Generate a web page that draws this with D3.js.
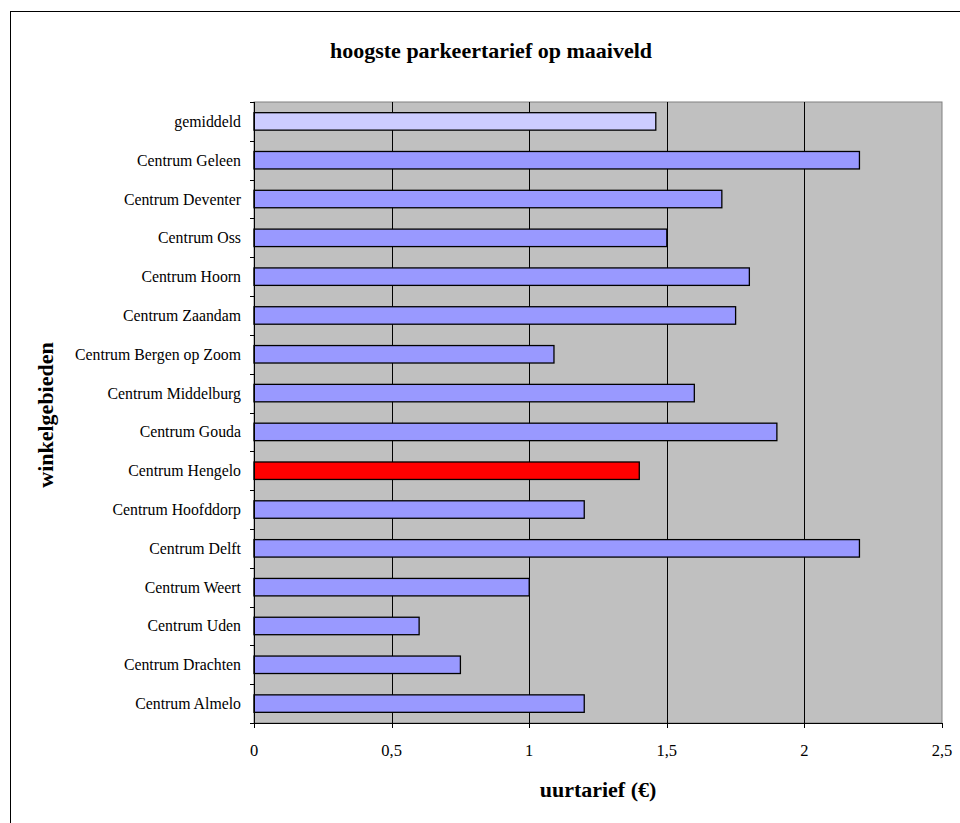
<!DOCTYPE html>
<html><head><meta charset="utf-8">
<script src="https://cdn.jsdelivr.net/npm/d3@7"></script>
<style>body{margin:0;background:#fff}svg{display:block}</style>
</head><body>
<script>
const categories = ["gemiddeld","Centrum Geleen","Centrum Deventer","Centrum Oss","Centrum Hoorn","Centrum Zaandam","Centrum Bergen op Zoom","Centrum Middelburg","Centrum Gouda","Centrum Hengelo","Centrum Hoofddorp","Centrum Delft","Centrum Weert","Centrum Uden","Centrum Drachten","Centrum Almelo"];
const values = [1.46,2.2,1.7,1.5,1.8,1.75,1.09,1.6,1.9,1.4,1.2,2.2,1.0,0.6,0.75,1.2];
const xTicks = [0,0.5,1,1.5,2,2.5];
const xTickLabels = ["0","0,5","1","1,5","2","2,5"];
const title = "hoogste parkeertarief op maaiveld";
const xTitle = "uurtarief (€)";
const yTitle = "winkelgebieden";

const W=960,H=823;
const font = "'Liberation Serif','DejaVu Serif',serif";
const svg = d3.select("body").append("svg").attr("width",W).attr("height",H);
svg.append("rect").attr("x",10.5).attr("y",11.5).attr("width",W).attr("height",H).attr("fill","#fff").attr("stroke","#000");

const L=254,R=942,T=102,B=723;
const x = d3.scaleLinear().domain([0,2.5]).range([L,R]);
const y = d3.scaleBand().domain(categories).range([T,B]).paddingInner(0.55).paddingOuter(0.275);
const yb = d3.scaleBand().domain(categories).range([T,B]);

svg.append("rect").attr("x",L).attr("y",T).attr("width",R-L).attr("height",B-T).attr("fill","#C0C0C0").attr("stroke","#808080");

svg.append("g").selectAll("line").data(xTicks.slice(1,-1)).join("line")
  .attr("x1",d=>Math.round(x(d))+0.5).attr("x2",d=>Math.round(x(d))+0.5).attr("y1",T).attr("y2",B)
  .attr("stroke","#000").attr("stroke-width",1);

svg.append("g").selectAll("rect").data(categories).join("rect")
  .attr("x",x(0)).attr("y",d=>y(d)).attr("width",(d,i)=>x(values[i])-x(0)).attr("height",y.bandwidth())
  .attr("fill",(d,i)=>d==="gemiddeld"?"#CCCCFF":(d==="Centrum Hengelo"?"#FF0000":"#9999FF"))
  .attr("stroke","#000").attr("stroke-width",1.3);

// y axis
const yAxisG = svg.append("g");
yAxisG.append("line").attr("x1",L+0.5).attr("x2",L+0.5).attr("y1",T).attr("y2",B).attr("stroke","#000");
const bounds = categories.map(c=>yb(c)).concat([B]);
yAxisG.selectAll("line.t").data(bounds).join("line").attr("class","t")
  .attr("x1",L-4).attr("x2",L).attr("y1",d=>Math.round(d)+0.5).attr("y2",d=>Math.round(d)+0.5).attr("stroke","#000");
yAxisG.selectAll("text").data(categories).join("text")
  .attr("x",241).attr("y",d=>yb(d)+yb.bandwidth()/2).attr("dy","0.35em")
  .attr("text-anchor","end").attr("font-family",font).attr("font-size",15.8).attr("fill","#000").text(d=>d);

// x axis
const xAxisG = svg.append("g").attr("transform",`translate(0,${B})`);
xAxisG.append("line").attr("x1",L).attr("x2",R).attr("y1",0.5).attr("y2",0.5).attr("stroke","#000");
xAxisG.selectAll("line.t").data(xTicks).join("line").attr("class","t")
  .attr("x1",d=>Math.round(x(d))+0.5).attr("x2",d=>Math.round(x(d))+0.5).attr("y1",0).attr("y2",5).attr("stroke","#000");
xAxisG.selectAll("text").data(xTicks).join("text")
  .attr("x",d=>x(d)).attr("y",33).attr("text-anchor","middle")
  .attr("font-family",font).attr("font-size",16.5).attr("fill","#000").text((d,i)=>xTickLabels[i]);

svg.append("text").attr("x",491).attr("y",58).attr("text-anchor","middle")
  .attr("font-family",font).attr("font-size",22).attr("font-weight","bold").text(title);
svg.append("text").attr("x",598).attr("y",797).attr("text-anchor","middle")
  .attr("font-family",font).attr("font-size",22).attr("font-weight","bold").text(xTitle);
svg.append("text").attr("transform","translate(53,415) rotate(-90)").attr("text-anchor","middle")
  .attr("font-family",font).attr("font-size",22).attr("font-weight","bold").text(yTitle);
</script>
</body></html>
